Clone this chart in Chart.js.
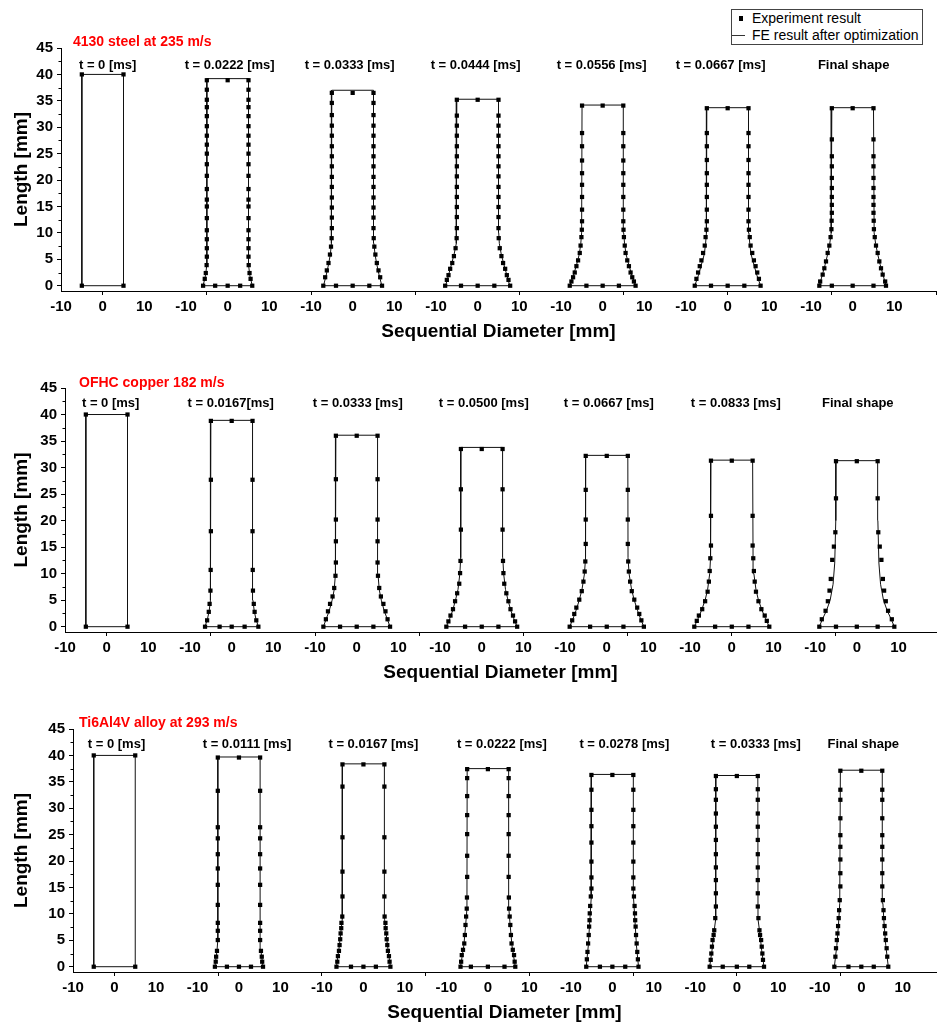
<!DOCTYPE html>
<html>
<head>
<meta charset="utf-8">
<script src="https://cdn.jsdelivr.net/npm/chart.js@4"></script>
<style>
html, body { margin: 0; padding: 0; background: #fff; }
body { width: 940px; height: 1023px; position: relative; overflow: hidden; font-family: "Liberation Sans", Arial, sans-serif; }
canvas { position: absolute; left: 0; }
#legend { position: absolute; left: 731px; top: 9px; width: 190px; height: 34px; border: 1px solid #444; font-size: 14px; line-height: 17px; background: #fff; color: #000; }
#legend .row { position: relative; height: 17px; padding-left: 20px; white-space: nowrap; }
#legend .sq { position: absolute; left: 7px; top: 6px; width: 4px; height: 5px; background: #000; }
#legend .ln { position: absolute; left: 0; top: 8px; width: 13px; height: 1px; background: #333; }
</style>
</head>
<body>
<canvas id="steel" width="940" height="343" style="top:0px"></canvas>
<canvas id="copper" width="940" height="341" style="top:343px"></canvas>
<canvas id="titanium" width="940" height="340" style="top:684px"></canvas>
<div id="legend">
	<div class="row"><span class="sq"></span>Experiment result</div>
	<div class="row"><span class="ln"></span>FE result after optimization</div>
</div>
<script>
// axis ticks
const yTicks = [0, 5, 10, 15, 20, 25, 30, 35, 40, 45];
const yMinorTicks = [2.5, 7.5, 12.5, 17.5, 22.5, 27.5, 32.5, 37.5, 42.5];
const xTickLabels = ['-10', '0', '10'];
const xTickAt = [-10, 0, 10];
const xMarks = [0, 25, 50, 75, 100, 125, 150, 175, 200];
const SPACING = 30; // mm between specimen axes

// ---- 4130 steel ----
const steelLabels = ['t = 0 [ms]', 't = 0.0222 [ms]', 't = 0.0333 [ms]', 't = 0.0444 [ms]', 't = 0.0556 [ms]', 't = 0.0667 [ms]', 'Final shape'];
// right side of measured profile, bottom corner -> top corner
const steelExpZ = [
	[0, 40],
	[0, 1.3, 2.4, 3.9, 5.5, 7.1, 8.8, 10.5, 12.8, 15.0, 16.3, 18.3, 20.8, 23.0, 25.0, 26.7, 28.4, 30.2, 32.1, 33.8, 35.2, 37.1, 38.9],
	[0, 1.6, 2.9, 4.3, 5.9, 7.4, 9.0, 10.9, 12.9, 14.8, 16.7, 18.7, 20.6, 22.6, 24.5, 26.4, 28.4, 30.3, 32.3, 34.6, 36.5],
	[0, 1.1, 2.0, 3.2, 4.3, 5.6, 7.1, 9.0, 10.9, 13.0, 14.9, 16.8, 18.7, 20.7, 22.6, 24.5, 26.4, 28.4, 30.3, 32.2, 35.2],
	[0, 0.8, 1.6, 2.5, 3.7, 4.8, 6.2, 7.6, 9.2, 10.6, 12.2, 14.4, 16.8, 19.1, 21.3, 23.7, 26.4, 28.9, 34.1],
	[0, 1.3, 2.5, 3.7, 4.8, 6.2, 7.6, 9.2, 10.6, 12.2, 14.4, 16.8, 19.1, 21.3, 23.8, 26.4, 28.9, 33.6],
	[0, 0.8, 2.1, 3.3, 4.6, 6.2, 7.6, 9.2, 10.7, 12.3, 13.8, 15.3, 16.8, 18.5, 20.4, 22.6, 24.5, 27.7, 33.6]
];
const steelExpR = [
	[5, 5],
	[5.9, 5.5, 5.25, 5.05, 5.0, 5.0, 5.0, 5.0, 5.0, 5.0, 5.0, 5.0, 5.0, 5.0, 5.0, 5.0, 5.0, 5.0, 5.0, 5.0, 5.0, 5.0, 5.0],
	[7.05, 6.6, 6.2, 5.8, 5.45, 5.2, 5.05, 5.0, 5.0, 5.0, 5.0, 5.0, 5.0, 5.0, 5.0, 5.0, 5.0, 5.0, 5.0, 5.0, 5.0],
	[7.8, 7.4, 7.0, 6.6, 6.1, 5.7, 5.3, 5.05, 5.0, 5.0, 5.0, 5.0, 5.0, 5.0, 5.0, 5.0, 5.0, 5.0, 5.0, 5.0, 5.0],
	[7.9, 7.5, 7.1, 6.7, 6.3, 5.9, 5.5, 5.3, 5.1, 5.0, 4.95, 4.95, 4.95, 4.95, 4.95, 4.95, 4.95, 4.95, 4.95],
	[7.9, 7.5, 7.1, 6.7, 6.3, 5.9, 5.5, 5.3, 5.1, 5.0, 5.0, 5.0, 5.0, 5.0, 5.0, 5.0, 5.0, 5.0],
	[8.0, 7.8, 7.2, 6.8, 6.4, 6.0, 5.6, 5.3, 5.1, 5.05, 5.0, 5.0, 5.0, 5.0, 5.0, 5.0, 5.0, 5.0, 5.0]
];
const steelBaseX = [[], [-3, 0, 3], [-4, 0, 4], [-4, 0, 4], [-3.9, 0, 3.9], [-4, 0, 4], [-5, 0, 5]];
const steelTopX = [[], [0], [0], [0], [0], [0], [0]];
const steelFeZ = [
	[0, 40],
	[0, 2, 4, 39.2],
	[0, 2, 4, 6, 8, 37.0],
	[0, 2, 4, 6, 8, 10, 35.3],
	[0, 2, 4, 6, 8, 10, 34.2],
	[0, 2, 4, 6, 8, 10, 33.7],
	[0, 2, 4, 6, 8, 10, 33.7]
];
const steelFeR = [
	[5, 5],
	[5.9, 5.3, 5.0, 5.0],
	[7.0, 6.35, 5.8, 5.35, 5.1, 5.0],
	[7.7, 7.0, 6.3, 5.65, 5.2, 5.05, 5.0],
	[7.9, 7.0, 6.25, 5.6, 5.25, 5.05, 4.95],
	[7.9, 7.0, 6.3, 5.6, 5.3, 5.1, 5.0],
	[8.0, 7.3, 6.6, 6.0, 5.5, 5.15, 5.0]
];

// ---- OFHC copper ----
const copperLabels = ['t = 0 [ms]', 't = 0.0167[ms]', 't = 0.0333 [ms]', 't = 0.0500 [ms]', 't = 0.0667 [ms]', 't = 0.0833 [ms]', 'Final shape'];
const copperExpZ = [
	[0, 40],
	[0, 1.2, 2.8, 4.3, 6.8, 10.7, 18.0, 27.7, 38.8],
	[0, 1.4, 2.9, 4.3, 5.7, 7.3, 9.6, 12.1, 16.1, 20.2, 27.8, 36.0],
	[0, 1.0, 2.1, 3.3, 4.8, 6.3, 8.1, 10.1, 12.4, 18.3, 25.9, 33.5],
	[0, 1.2, 2.4, 3.6, 5.1, 6.7, 8.5, 10.4, 12.3, 15.6, 20.2, 25.8, 32.2],
	[0, 1.1, 2.1, 3.3, 4.8, 6.6, 8.5, 10.5, 12.9, 15.3, 20.9, 31.3],
	[0, 1.4, 3.0, 4.8, 6.8, 9.0, 12.6, 15.1, 17.8, 24.2, 31.2]
];
const copperExpR = [
	[5, 5],
	[6.4, 5.9, 5.5, 5.3, 5.1, 5.05, 5.0, 5.0, 5.0],
	[8.0, 7.4, 6.9, 6.4, 5.8, 5.4, 5.1, 5.0, 5.0, 5.0, 5.0, 5.0],
	[8.5, 8.0, 7.5, 6.9, 6.4, 5.9, 5.4, 5.2, 5.1, 5.0, 5.0, 5.0],
	[8.9, 8.3, 7.8, 7.3, 6.6, 6.0, 5.6, 5.3, 5.15, 5.05, 5.05, 5.05, 5.05],
	[9.0, 8.4, 7.9, 7.1, 6.4, 5.8, 5.5, 5.3, 5.15, 5.0, 5.0, 5.0],
	[9.0, 8.4, 7.5, 6.95, 6.55, 6.25, 5.9, 5.5, 5.15, 5.0, 5.0]
];
const copperBaseX = [[], [-2.9, 0, 3.1], [-4, 0, 4], [-4, 0, 4], [-4, 0, 4], [-4, 0, 4], [-5, 0, 5]];
const copperTopX = [[], [0], [0], [0], [0], [0], [0]];
const copperFeZ = [
	[0, 40],
	[0, 1.5, 3, 5, 38.9],
	[0, 1.5, 3, 5, 7, 10, 36.1],
	[0, 1.5, 3, 5, 7, 10, 13, 33.8],
	[0, 1.5, 3, 5, 7, 10, 13, 32.3],
	[0, 1.5, 3, 5, 7, 10, 13, 31.4],
	[0, 1.5, 3, 5, 8, 12, 20, 31.3]
];
const copperFeR = [
	[5, 5],
	[6.4, 5.8, 5.4, 5.1, 5.0],
	[8.0, 7.3, 6.6, 5.9, 5.4, 5.1, 5.0],
	[8.5, 7.7, 7.0, 6.3, 5.7, 5.25, 5.05, 5.0],
	[8.9, 8.1, 7.4, 6.6, 5.95, 5.35, 5.1, 5.05],
	[9.0, 8.1, 7.3, 6.4, 5.8, 5.3, 5.1, 5.0],
	[9.0, 8.2, 7.3, 6.4, 5.7, 5.3, 5.05, 5.0]
];

// ---- Ti6Al4V ----
const tiLabels = ['t = 0 [ms]', 't = 0.0111 [ms]', 't = 0.0167 [ms]', 't = 0.0222 [ms]', 't = 0.0278 [ms]', 't = 0.0333 [ms]', 'Final shape'];
const tiExpZ = [
	[0, 40],
	[0, 0.95, 1.9, 3.0, 5.05, 6.8, 8.3, 11.7, 15.5, 18.6, 21.3, 24.3, 26.4, 33.3, 39.6],
	[0, 0.95, 2.0, 3.0, 4.1, 5.2, 6.3, 7.3, 8.3, 9.5, 13.3, 18.0, 24.5, 34.1, 38.3],
	[0, 0.95, 2.2, 3.2, 4.4, 6.0, 7.9, 9.5, 11.0, 13.1, 17.0, 21.0, 25.1, 28.7, 32.3, 35.7, 37.4],
	[0, 1.4, 2.8, 4.4, 6.0, 7.6, 8.8, 10.1, 11.5, 13.3, 14.8, 16.9, 19.9, 23.5, 26.6, 29.7, 33.5, 36.3],
	[0, 1.3, 2.5, 3.8, 5.05, 6.0, 6.9, 9.2, 11.4, 13.9, 16.4, 18.8, 21.3, 24.0, 26.5, 29.0, 31.6, 33.6, 36.1],
	[0, 1.9, 3.5, 5.05, 6.3, 7.7, 9.2, 10.7, 12.6, 15.2, 17.7, 20.3, 22.7, 24.9, 28.1, 31.6, 33.5, 37.1]
];
const tiExpR = [
	[5, 5],
	[5.8, 5.6, 5.5, 5.3, 5.1, 5.1, 5.1, 5.1, 5.1, 5.1, 5.1, 5.1, 5.1, 5.1, 5.1],
	[6.5, 6.3, 6.15, 5.9, 5.75, 5.6, 5.5, 5.35, 5.3, 5.1, 5.05, 5.05, 5.05, 5.05, 5.05],
	[6.6, 6.45, 6.3, 6.0, 5.7, 5.55, 5.4, 5.25, 5.1, 5.05, 5.0, 5.0, 5.0, 5.0, 5.0, 5.0, 5.0],
	[6.3, 6.15, 6.0, 5.85, 5.7, 5.6, 5.5, 5.45, 5.35, 5.2, 5.05, 5.05, 5.05, 5.05, 5.05, 5.05, 5.05, 5.05],
	[6.55, 6.3, 6.15, 6.0, 5.85, 5.6, 5.45, 5.2, 5.05, 5.05, 5.05, 5.05, 5.05, 5.05, 5.05, 5.05, 5.05, 5.05, 5.05],
	[6.5, 6.25, 6.1, 5.9, 5.75, 5.6, 5.45, 5.35, 5.2, 5.05, 5.05, 5.05, 5.05, 5.05, 5.05, 5.05, 5.05, 5.05]
];
const tiBaseX = [[], [-2.9, 0, 2.9], [-3, 0, 3], [-4.1, 0, 4], [-3, 0, 3.1], [-3.4, 0, 3], [-3.1, 0, 3]];
const tiTopX = [[], [0], [0], [0], [0], [0], [0]];
const tiFeZ = [
	[0, 40],
	[0, 3, 5, 39.7],
	[0, 4, 9, 38.4],
	[0, 4, 8, 11, 37.5],
	[0, 4, 8, 13, 36.4],
	[0, 3, 6, 9, 36.2],
	[0, 4, 8, 12, 37.2]
];
const tiFeR = [
	[5, 5],
	[5.8, 5.3, 5.1, 5.1],
	[6.5, 5.8, 5.1, 5.05],
	[6.6, 5.8, 5.35, 5.05, 5.0],
	[6.3, 5.8, 5.5, 5.1, 5.05],
	[6.55, 6.0, 5.6, 5.1, 5.05],
	[6.5, 5.9, 5.5, 5.2, 5.05]
];

Chart.defaults.font.family = '"Liberation Sans", Arial, sans-serif';
Chart.defaults.color = '#000';

function buildDatasets(expZ, expR, baseX, topX, feZ, feR) {
	const sets = [];
	const exp = [];
	for (let k = 0; k < expZ.length; k++) {
		const off = k * SPACING;
		// FE outline: bottom face, right side up, top face, left side down
		const fe = [{x: off - feR[k][0], y: 0}];
		feZ[k].forEach((z, i) => fe.push({x: off + feR[k][i], y: z}));
		for (let i = feZ[k].length - 1; i >= 0; i--) fe.push({x: off - feR[k][i], y: feZ[k][i]});
		sets.push({
			label: 'FE result after optimization',
			data: fe,
			showLine: true,
			borderColor: '#111',
			borderWidth: 1,
			pointRadius: 0,
			fill: false,
			order: 2
		});
		expZ[k].forEach((z, i) => {
			exp.push({x: off + expR[k][i], y: z});
			exp.push({x: off - expR[k][i], y: z});
		});
		baseX[k].forEach(v => exp.push({x: off + v, y: 0}));
		const zt = expZ[k][expZ[k].length - 1];
		topX[k].forEach(v => exp.push({x: off + v, y: zt}));
	}
	sets.push({
		label: 'Experiment result',
		data: exp,
		showLine: false,
		pointStyle: 'rect',
		pointRadius: 3,
		backgroundColor: '#000',
		borderWidth: 0,
		order: 1
	});
	return sets;
}

function xTickList(max) {
	const map = new Map();
	xMarks.filter(v => v <= max).forEach(v => map.set(v, {mark: true, label: ''}));
	for (let k = 0; k < 7; k++) {
		xTickAt.forEach((d, j) => {
			const v = k * SPACING + d;
			const t = map.get(v) || {mark: false};
			t.label = xTickLabels[j];
			map.set(v, t);
		});
	}
	return map;
}

//Etiquetes, títol vermell i marques menors de l'eix Y
const panelDecor = {
	id: 'panelDecor',
	afterDraw(chart, args, opts) {
		const {ctx, chartArea, scales: {x, y}} = chart;
		ctx.save();
		ctx.strokeStyle = '#000';
		ctx.lineWidth = 1;
		yMinorTicks.forEach(v => {
			const py = Math.round(y.getPixelForValue(v)) + 0.5;
			ctx.beginPath();
			ctx.moveTo(chartArea.left - 2.5, py);
			ctx.lineTo(chartArea.left, py);
			ctx.stroke();
		});
		ctx.textBaseline = 'middle';
		ctx.textAlign = 'left';
		ctx.fillStyle = '#ff0000';
		ctx.font = 'bold 14px "Liberation Sans", Arial, sans-serif';
		ctx.fillText(opts.title, chartArea.left + opts.titleDx, chartArea.top + opts.titleDy);
		ctx.fillStyle = '#000';
		ctx.font = 'bold 13px "Liberation Sans", Arial, sans-serif';
		ctx.textAlign = 'center';
		opts.labels.forEach((t, k) => {
			ctx.fillText(t, x.getPixelForValue(k * SPACING) + opts.labelShift[k], chartArea.top + opts.labelDy);
		});
		ctx.restore();
	}
};

function makePanel(id, cfg) {
	const ticks = xTickList(cfg.xMax);
	return new Chart(document.getElementById(id), {
		type: 'scatter',
		data: {datasets: buildDatasets(cfg.expZ, cfg.expR, cfg.baseX, cfg.topX, cfg.feZ, cfg.feR)},
		plugins: [panelDecor],
		options: {
			responsive: false,
			animation: false,
			devicePixelRatio: 1,
			events: [],
			layout: {padding: {top: cfg.padTop, left: 0, right: cfg.padRight, bottom: 0}},
			plugins: {
				legend: {display: false},
				tooltip: {enabled: false},
				panelDecor: {
					title: cfg.title,
					titleDx: cfg.titleDx,
					titleDy: cfg.titleDy,
					labels: cfg.labels,
					labelShift: cfg.labelShift,
					labelDy: cfg.labelDy
				}
			},
			scales: {
				x: {
					type: 'linear',
					min: -10,
					max: cfg.xMax,
					afterBuildTicks: s => { s.ticks = [...ticks.keys()].sort((a, b) => a - b).map(v => ({value: v})); },
					afterFit: s => { s.height = 52; },
					ticks: {
						autoSkip: false,
						maxRotation: 0,
						minRotation: 0,
						padding: 3,
						color: '#000',
						font: {size: 15, weight: 'bold'},
						callback: v => (ticks.get(v) || {}).label || ''
					},
					grid: {
						drawOnChartArea: false,
						drawTicks: true,
						tickLength: 4,
						tickColor: c => (c.tick && ticks.get(c.tick.value) && ticks.get(c.tick.value).mark) ? '#000' : 'rgba(0,0,0,0)'
					},
					border: {display: true, color: '#000', width: 1},
					title: {
						display: true,
						text: 'Sequential Diameter [mm]',
						color: '#000',
						font: {size: 19, weight: 'bold'},
						padding: {top: 0, bottom: 0}
					}
				},
				y: {
					type: 'linear',
					min: -1,
					max: 45,
					afterBuildTicks: s => { s.ticks = yTicks.map(v => ({value: v})); },
					afterFit: s => { s.width = cfg.left; },
					ticks: {
						padding: 4,
						color: '#000',
						font: {size: 15, weight: 'bold'},
						callback: v => String(v)
					},
					grid: {
						drawOnChartArea: false,
						drawTicks: true,
						tickLength: 4,
						tickColor: '#000'
					},
					border: {display: true, color: '#000', width: 1},
					title: {
						display: true,
						text: 'Length [mm]',
						color: '#000',
						font: {size: 19, weight: 'bold'},
						padding: {top: 10, bottom: 0}
					}
				}
			}
		}
	});
}

makePanel('steel', {
	title: '4130 steel at 235 m/s', labels: steelLabels,
	expZ: steelExpZ, expR: steelExpR, baseX: steelBaseX, topX: steelTopX, feZ: steelFeZ, feR: steelFeR,
	xMax: 200, left: 61, padTop: 48, padRight: 3,
	titleDx: 12, titleDy: -6, labelDy: 17, labelShift: [5, 2, -3, -2, -1, -7, 1]
});
makePanel('copper', {
	title: 'OFHC copper 182 m/s', labels: copperLabels,
	expZ: copperExpZ, expR: copperExpR, baseX: copperBaseX, topX: copperTopX, feZ: copperFeZ, feR: copperFeR,
	xMax: 199, left: 65, padTop: 45, padRight: 2,
	titleDx: 14, titleDy: -5, labelDy: 15, labelShift: [4, -1, 1, 2, 2, 4, 1]
});
makePanel('titanium', {
	title: 'Ti6Al4V alloy at 293 m/s', labels: tiLabels,
	expZ: tiExpZ, expR: tiExpR, baseX: tiBaseX, topX: tiTopX, feZ: tiFeZ, feR: tiFeR,
	xMax: 198, left: 73, padTop: 45, padRight: 1,
	titleDx: 6, titleDy: -6, labelDy: 15, labelShift: [2, 8, 10, 14, 12, 19, 2]
});
</script>
</body>
</html>
